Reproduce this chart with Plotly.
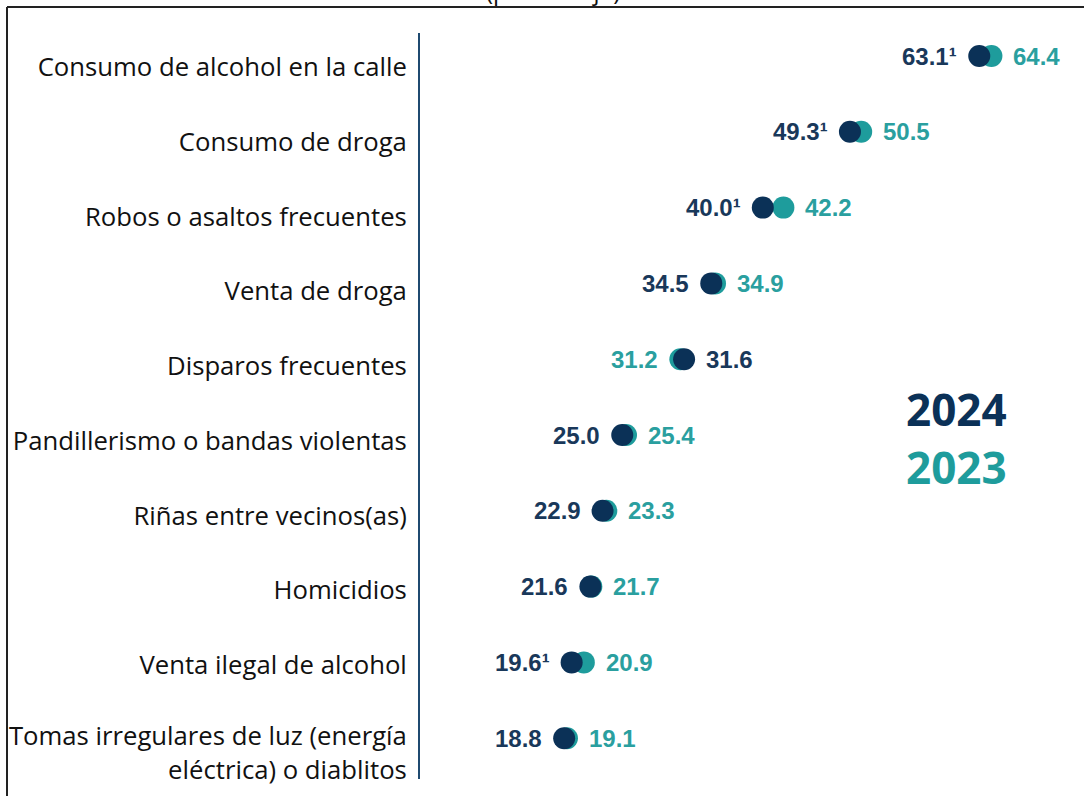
import plotly.graph_objects as go

categories = ["Consumo de alcohol en la calle", "Consumo de droga", "Robos o asaltos frecuentes",
              "Venta de droga", "Disparos frecuentes", "Pandillerismo o bandas violentas",
              "Riñas entre vecinos(as)", "Homicidios", "Venta ilegal de alcohol",
              "Tomas irregulares de luz (energía<br>eléctrica) o diablitos"]
values_2024 = [63.1, 49.3, 40.0, 34.5, 31.6, 25.0, 22.9, 21.6, 19.6, 18.8]
values_2023 = [64.4, 50.5, 42.2, 34.9, 31.2, 25.4, 23.3, 21.7, 20.9, 19.1]
significant_2024 = [True, True, True, False, False, False, False, False, True, False]

NAVY = "#0b3157"
TEAL = "#1e9c9c"
NAVY_TXT = "#19385a"
TEAL_TXT = "#2a9f9f"

W, H = 1084, 796
ML, MR, MT, MB = 420, 0, 33, 17
PW, PH = W - ML - MR, H - MT - MB
PX_PER_UNIT = 9.37
X0 = (ML - 388) / PX_PER_UNIT
xrange = [X0, X0 + PW / PX_PER_UNIT]
ROW = 75.8
y_top = (MT - 56) / ROW
y_bot = (H - MB - 56) / ROW

ypos = list(range(len(categories)))

fig = go.Figure()
fig.add_trace(go.Scatter(x=values_2023, y=ypos, mode="markers", name="2023",
                         marker=dict(size=22, color=TEAL), hoverinfo="skip"))
fig.add_trace(go.Scatter(x=values_2024, y=ypos, mode="markers", name="2024",
                         marker=dict(size=22, color=NAVY), hoverinfo="skip"))

annotations = []
valfont = dict(family="Liberation Sans, Arial", size=24)
for i, (a, b, s) in enumerate(zip(values_2024, values_2023, significant_2024)):
    t24 = f"{a:.1f}" + ("¹" if s else "")
    t23 = f"{b:.1f}"
    if a <= b:
        left, right = (a, t24, NAVY_TXT), (b, t23, TEAL_TXT)
    else:
        left, right = (b, t23, TEAL_TXT), (a, t24, NAVY_TXT)
    annotations.append(dict(x=left[0], y=i, text=f"<b>{left[1]}</b>", showarrow=False,
                            xanchor="right", yanchor="middle", xshift=-20,
                            font=dict(color=left[2], **valfont)))
    annotations.append(dict(x=right[0], y=i, text=f"<b>{right[1]}</b>", showarrow=False,
                            xanchor="left", yanchor="middle", xshift=20,
                            font=dict(color=right[2], **valfont)))

# legend-like year labels
annotations.append(dict(x=(956 - ML) / PW, y=1 - (409 - MT) / PH, xref="paper", yref="paper",
                        text="<b>2024</b>", showarrow=False, xanchor="center", yanchor="middle",
                        font=dict(family="Open Sans", size=44, color=NAVY)))
annotations.append(dict(x=(956 - ML) / PW, y=1 - (467 - MT) / PH, xref="paper", yref="paper",
                        text="<b>2023</b>", showarrow=False, xanchor="center", yanchor="middle",
                        font=dict(family="Open Sans", size=44, color=TEAL)))
# cut-off subtitle
annotations.append(dict(x=(553 - ML) / PW, y=1 + (MT + 9) / PH, xref="paper", yref="paper",
                        text="(porcentaje)", showarrow=False, xanchor="center", yanchor="middle",
                        font=dict(family="Open Sans", size=24, color="#111111")))

# category label positions (slightly different spacing from dot rows in the original)
LABEL_Y0, LABEL_STEP = 67, 74.75
tickvals = [(LABEL_Y0 + LABEL_STEP * i - 56) / ROW for i in ypos[:-1]]
tickvals.append((738 + 15 - 56) / ROW)  # two-line label: first line level with its dots


def px2paper_x(p):
    return (p - ML) / PW


def px2paper_y(p):
    return 1 - (p - MT) / PH


shapes = [
    dict(type="line", xref="paper", yref="paper", x0=px2paper_x(7), x1=px2paper_x(W + 5),
         y0=px2paper_y(7), y1=px2paper_y(7), line=dict(color="#222222", width=2)),
    dict(type="line", xref="paper", yref="paper", x0=px2paper_x(7), x1=px2paper_x(7),
         y0=px2paper_y(7), y1=px2paper_y(H + 5), line=dict(color="#222222", width=2)),
]

fig.update_layout(
    width=W, height=H,
    margin=dict(l=ML, r=MR, t=MT, b=MB, pad=0),
    paper_bgcolor="white", plot_bgcolor="white",
    showlegend=False,
    annotations=annotations,
    shapes=shapes,
    xaxis=dict(range=xrange, visible=False, showgrid=False, zeroline=False),
    yaxis=dict(range=[y_bot, y_top], tickvals=tickvals, ticktext=categories,
               showgrid=False, zeroline=False, showline=True, linecolor="#1f4a70", linewidth=2,
               ticks="", ticklabelstandoff=6,
               tickfont=dict(family="Open Sans", size=25.7, color="#111111")),
)

fig.write_html("out.html", config={"displayModeBar": False},
               post_script="document.body.style.margin='0px';document.body.style.overflow='hidden';")
